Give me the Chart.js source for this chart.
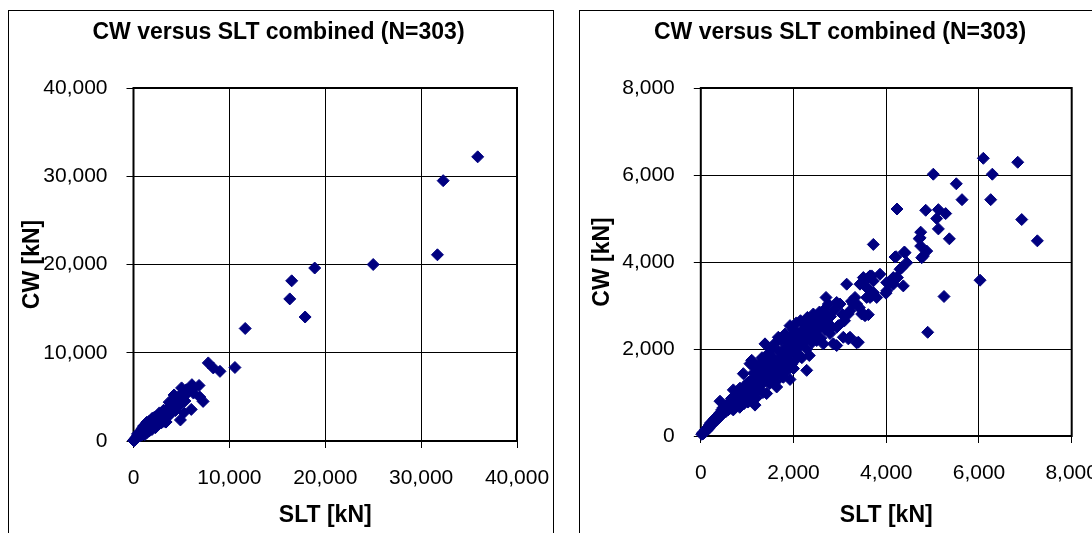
<!DOCTYPE html>
<html lang="en">
<head>
<meta charset="UTF-8">
<title>CW versus SLT combined (N=303)</title>
<script src="https://cdn.jsdelivr.net/npm/chart.js"></script>
<style>
  html, body { margin: 0; padding: 0; background: #fff; }
  body { width: 1092px; height: 533px; overflow: hidden; position: relative; }
  .panel { position: absolute; top: 10px; height: 560px; border: 1px solid #000; background: #fff; }
  #leftPanel { left: 8px; width: 544px; }
  #rightPanel { left: 579px; width: 544px; }
  canvas { display: block; }
</style>
</head>
<body>
<div class="panel" id="leftPanel"><canvas id="chartAll" width="543" height="530"></canvas></div>
<div class="panel" id="rightPanel"><canvas id="chartZoom" width="520" height="530"></canvas></div>

<script>
// [SLT kN, CW kN] pairs (same 303-pile data set)
const lowRange = [
  [20,40],[40,70],[50,50],[70,100],[80,80],[100,140],[110,110],[130,170],[140,140],[160,200],
  [170,170],[190,260],[200,230],[210,300],[230,250],[240,320],[260,290],[270,360],[290,320],[300,400],
  [310,340],[330,430],[340,370],[360,460],[370,400],[390,500],[400,430],[414,800],[420,540],[430,470],
  [450,600],[460,500],[480,650],[490,540],[510,600],[520,690],[540,560],[560,640],[580,720],[590,600],
  [600,680]
];
const midRange = [
  [620,780],[640,640],[650,700],[660,860],[680,720],[690,820],[700,600],[701,1060],[720,800],[730,700],
  [740,920],[760,680],[770,860],[780,1000],[800,780],[810,980],[820,900],[830,760],[840,660],[845,1100],
  [860,1000],[870,920],[880,800],[890,1080],[900,920],[917,1433],[920,840],[930,740],[950,1050],[960,1000],
  [970,880],[980,1120],[990,1200],[1000,980],[1010,880],[1020,780],[1030,1240],[1040,1100],[1061,1662],[1070,900],
  [1080,1050],[1098,1740],[1100,1300],[1110,1150],[1120,1020],[1140,1450],[1150,960],[1160,1180],[1169,710],[1180,1560],
  [1190,1050],[1200,880],[1200,1300],[1210,1400],
  [1220,1500],[1240,1050],[1250,1350],[1260,1650],[1280,1250],[1290,1550],[1300,1400],[1320,1800],[1330,1200],[1340,1000],
  [1360,1550],[1370,1400],[1385,2118],[1400,1300],[1410,1600],[1420,976],[1420,1700],[1440,1450],[1450,1300],[1460,1900],
  [1480,1200],[1490,1800],[1500,1600],[1520,2000],[1530,1700],[1540,1350],[1560,1800],[1570,1400],[1580,1500],[1600,2130],
  [1610,1650],[1620,1250],[1637,1127],[1650,1700],[1660,1400],[1672,2270],[1680,1950],[1690,1750],[1700,1450],[1720,1800],
  [1730,1550],[1740,2200],[1760,1600],[1770,1900],[1780,1350],[1800,2000],[1810,1650],[1820,2350],[1840,1750],[1850,2000],
  [1860,1500],[1880,2150],[1890,1700],[1900,1850],[1924,2537],[1924,1300],[1940,2300],[1950,2150],[1960,1650],[1980,2000],
  [2000,2450],[2000,1550]
];
const upperRange = [
  [2020,2200],[2030,2000],[2040,1750],[2060,2600],[2080,1900],[2090,2150],[2100,2350],[2120,2050],[2150,2650],[2160,2250],
  [2180,1800],[2200,2450],[2220,2150],[2230,2350],[2250,2600],[2270,2200],[2284,1509],[2284,2000],[2300,2727],[2320,2300],
  [2330,2550],[2340,1850],[2356,2651],[2380,2450],[2400,2150],[2420,2400],[2427,2804],[2450,2550],[2470,2300],[2500,2194],
  [2500,2700],[2530,2450],[2540,2650],[2560,2850],[2590,2250],[2610,2600],[2640,2750],[2642,2118],[2660,2900],[2680,2450],
  [2701,3185],[2715,2766],[2740,2600],[2751,3033],[2787,2354],[2800,2750],[2823,2499],
  [2859,2118],[2880,2900],[2931,2080],[2931,2499],[2931,3070],[2967,2537],[3003,3033],[3050,2800],[3074,2270],[3100,2650],
  [3147,3490],[3182,2804],[3182,2233],[3218,2880],[3218,2270],[3250,3100],[3290,3033],[3326,3185],[3362,2141],[3362,3033],
  [3398,2156],[3420,2950],[3434,3490],[3470,3527],[3470,2804],[3506,2804],[3506,3642],[3542,2766],[3578,3413],[3578,3185],
  [3614,3642],[3614,3376],[3614,2789],[3650,3680],[3650,3185],[3686,3223],[3686,3680]
];
const highRange = [
  [3721,4404],[3721,3566],[3721,3299],[3794,3185],[3865,3719],[3995,3284],[4010,3527],[4010,3337],[4081,3527],[4152,3490],
  [4152,3642],[4189,4114],[4211,4122],[4226,3642],[4232,5218],[4239,3642],[4297,3833],[4334,3870],[4368,3451],[4390,4229],
  [4405,4213],[4441,3985],[4713,4533],[4728,4556],[4743,4686],[4743,4366],[4765,4099],[4800,4137],[4851,5189],[4873,4251],
  [4894,2384],[5015,6018],[5088,4999],[5124,5204],[5124,4761],[5246,3207],[5282,5113],[5361,4533],[5511,5798],[5634,5433],
  [6023,3581],[6094,6384],[6253,5433],[6288,6018],[6836,6293],[6922,4976],[7259,4487]
];
const largePiles = [
  [7800,8850],[8320,8280],[9020,7890],[10580,8330],[11650,12750],[16300,16100],[16500,18150],
  [17900,14050],[18900,19600],[25000,20000],[31700,21100],[32300,29500],[35900,32200]
];

const chartTitle = 'CW versus SLT combined (N=303)';
const xLabel = 'SLT [kN]';
const yLabel = 'CW [kN]';
const ticksAll = [0, 10000, 20000, 30000, 40000];
const ticksZoom = [0, 2000, 4000, 6000, 8000];

const points = [...lowRange, ...midRange, ...upperRange, ...highRange, ...largePiles]
  .map(p => ({ x: p[0], y: p[1] }));

const FONT = "'Liberation Sans', Arial, sans-serif";
const navy = '#000080';

// heavier frame round the plot area, drawn under the markers
const frame = {
  id: 'frame',
  beforeDatasetsDraw(chart) {
    const { ctx, chartArea: a } = chart;
    ctx.save();
    ctx.strokeStyle = '#000';
    ctx.lineWidth = 2;
    ctx.strokeRect(a.left, a.top, a.right - a.left, a.bottom - a.top);
    ctx.restore();
  }
};

function makeChart(id, cfg) {
  return new Chart(document.getElementById(id), {
    type: 'scatter',
    data: {
      datasets: [{
        data: points,
        pointStyle: 'rectRot',
        pointRadius: 6,
        borderWidth: 1,
        backgroundColor: navy,
        borderColor: navy,
        clip: cfg.clip
      }]
    },
    options: {
      responsive: false,
      animation: false,
      layout: { padding: { left: cfg.padLeft, right: cfg.padRight, top: 0, bottom: 0 } },
      plugins: {
        legend: { display: false },
        tooltip: { enabled: false },
        title: {
          display: true,
          text: chartTitle,
          color: '#000',
          font: { family: FONT, size: 23, weight: 'bold' },
          padding: { top: 8.2, bottom: 41.2 }
        }
      },
      scales: {
        x: {
          type: 'linear',
          min: cfg.ticks[0],
          max: cfg.ticks[cfg.ticks.length - 1],
          afterBuildTicks: s => { s.ticks = cfg.ticks.map(v => ({ value: v })); },
          afterFit: s => {
            s.height = cfg.xHeight;
            // let the last label hang into the margin like the original
            s.paddingLeft = 0;
            s.paddingRight = 0;
          },
          grid: { color: '#000', lineWidth: 1, tickLength: 7 },
          border: { display: false },
          ticks: {
            color: '#000', font: { family: FONT, size: 21 }, padding: 18,
            autoSkip: false, maxRotation: 0,
            callback: v => v.toLocaleString('en-US')
          },
          title: {
            display: true, text: xLabel, color: '#000',
            font: { family: FONT, size: 23, weight: 'bold' },
            padding: { top: 0, bottom: 11.2 }
          }
        },
        y: {
          type: 'linear',
          min: cfg.ticks[0],
          max: cfg.ticks[cfg.ticks.length - 1],
          afterBuildTicks: s => { s.ticks = cfg.ticks.map(v => ({ value: v })); },
          afterFit: s => { s.width = cfg.yWidth; },
          grid: { color: '#000', lineWidth: 1, tickLength: 7 },
          border: { display: false },
          ticks: {
            color: '#000', font: { family: FONT, size: 21 }, padding: 19,
            autoSkip: false,
            callback: v => v.toLocaleString('en-US')
          },
          title: {
            display: true, text: yLabel, color: '#000',
            font: { family: FONT, size: 23, weight: 'bold' },
            padding: { top: cfg.yTitlePad, bottom: 0 }
          }
        }
      }
    },
    plugins: [frame]
  });
}

makeChart('chartAll', {
  ticks: ticksAll, padLeft: 31, padRight: 35, yWidth: 93.5, xHeight: 100,
  yTitlePad: -20.8, clip: false
});

makeChart('chartZoom', {
  ticks: ticksZoom, padLeft: 28.3, padRight: 28.3, yWidth: 92.5, xHeight: 105,
  yTitlePad: -19.1, clip: { left: 10, bottom: 10, top: 0, right: 0 }
});
</script>
</body>
</html>
